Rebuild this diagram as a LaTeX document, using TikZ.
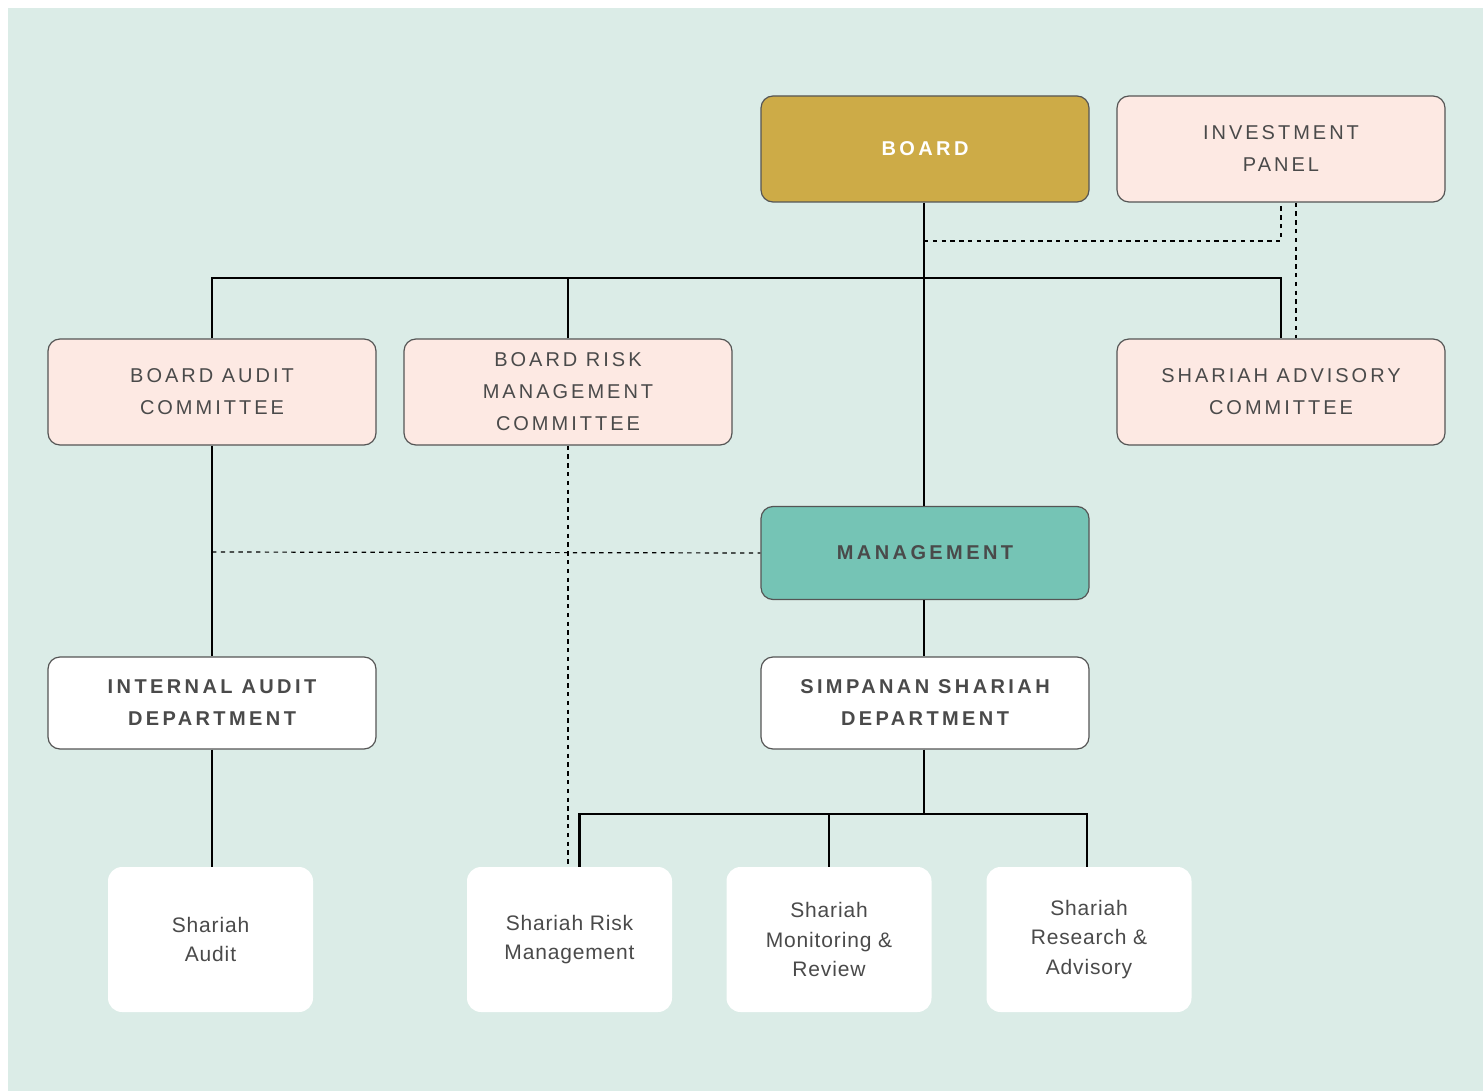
\documentclass[tikz,border=0pt]{standalone}
\usepackage{fontspec}
\setmainfont{Liberation Sans}
\newfontfamily\capsfont[LetterSpace=15]{Liberation Sans}
\newfontfamily\headfont[LetterSpace=17]{Liberation Sans}
\newfontfamily\unitfont[LetterSpace=4]{Liberation Sans}
\definecolor{paper}{HTML}{DBECE7}
\definecolor{boardfill}{HTML}{CDAB47}
\definecolor{pinkfill}{HTML}{FDE9E3}
\definecolor{mgmtfill}{HTML}{75C4B5}
\definecolor{ink}{HTML}{4A4A4A}
\definecolor{edge}{HTML}{555555}
\begin{document}
\begin{tikzpicture}[x=0.5pt,y=-0.5pt,
  box/.style={draw=edge,line width=0.6pt,rounded corners=6pt,
    minimum width=164pt,minimum height=53pt,align=center,text=ink,
    inner sep=0pt,font=\capsfont\fontsize{10}{16}\selectfont},
  headbox/.style={box,font=\headfont\bfseries\fontsize{10}{16}\selectfont},
  unit/.style={fill=white,rounded corners=7pt,minimum width=102.5pt,
    minimum height=72.5pt,align=center,text=ink,inner sep=0pt,
    font=\unitfont\fontsize{10.5}{14.8}\selectfont},
  link/.style={line width=1.3pt,black},
  dotlink/.style={line width=0.6pt,black,dash pattern=on 2.2pt off 2.2pt}]
% page and backdrop
\fill[white] (0,0) rectangle (1483,1091);
\fill[paper] (8,8) rectangle (1483,1091);
\useasboundingbox (0,0) rectangle (1483,1091);

% governance boxes
\node[headbox,fill=boardfill,text=white] (board) at (925,149) {BOARD};
\node[box,fill=pinkfill] (panel) at (1281,149) {INVESTMENT\\PANEL};
\node[box,fill=pinkfill] (bac) at (212,392) {BOARD AUDIT\\COMMITTEE};
\node[box,fill=pinkfill] (brmc) at (568,392) {BOARD RISK\\MANAGEMENT\\COMMITTEE};
\node[box,fill=pinkfill] (sac) at (1281,392) {SHARIAH ADVISORY\\COMMITTEE};
\node[headbox,fill=mgmtfill,minimum height=46.5pt] (mgmt) at (925,553) {MANAGEMENT};
\node[headbox,fill=white,minimum height=46pt] (iad) at (212,703) {INTERNAL AUDIT\\DEPARTMENT};
\node[headbox,fill=white,minimum height=46pt] (ssd) at (925,703) {SIMPANAN SHARIAH\\DEPARTMENT};

% functional units
\node[unit] (sa) at (210.5,939.5) {Shariah\\Audit};
\node[unit] (srm) at (569.5,939.5) {Shariah Risk\\Management};
\node[unit] (smr) at (829,939.5) {Shariah\\Monitoring \&\\Review};
\node[unit] (sra) at (1089,939.5) {Shariah\\Research \&\\Advisory};

% bus junctions
\coordinate (bus) at (924,278);
\coordinate (pbus) at (924,241);
\coordinate (ubus) at (924,814);
\coordinate (dline) at (212,552);

% solid reporting lines
\draw[link] ([xshift=-0.5pt]board.south) -- ([xshift=-0.5pt]mgmt.north);
\draw[link] (bac.north) |- (bus) -| (sac.north);
\draw[link] (brmc.north) -- (brmc.north |- bus);
\draw[link] (bac.south) -- (iad.north);
\draw[link] (iad.south) -- (iad.south |- sa.north);
\draw[link] ([xshift=-0.5pt]mgmt.south) -- ([xshift=-0.5pt]ssd.north);
\draw[link] ([xshift=-0.5pt]ssd.south) -- (ubus);
\draw[link] ([xshift=5pt]srm.north) |- (ubus) -| ([xshift=-1pt]sra.north);
\draw[link] (smr.north) -- (smr.north |- ubus);

% dotted advisory lines
\draw[dotlink] (pbus) -| (panel.south);
\draw[dotlink] ([xshift=7.5pt]panel.south) -- ([xshift=7.5pt]panel.south |- sac.north);
\draw[dotlink] (dline) -- (mgmt.west);
\draw[dotlink] (brmc.south) -- (brmc.south |- srm.north);
\end{tikzpicture}
\end{document}
